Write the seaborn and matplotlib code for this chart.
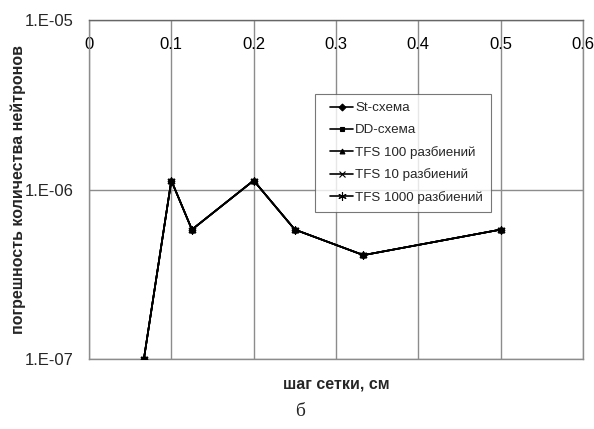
import matplotlib
matplotlib.use("Agg")
import matplotlib.pyplot as plt
import seaborn as sns
import numpy as np
import pandas as pd
from matplotlib.ticker import FixedLocator, FixedFormatter, NullLocator
from matplotlib.lines import Line2D
from matplotlib.legend_handler import HandlerLine2D

# Grid step (cm) and neutron count error for each scheme
steps = [1/15, 0.1, 0.125, 0.2, 0.25, 1/3, 0.5]
st_scheme = [1.0e-7, 1.13e-6, 5.8e-7, 1.13e-6, 5.8e-7, 4.1e-7, 5.8e-7]
dd_scheme = [1.0e-7, 1.13e-6, 5.8e-7, 1.13e-6, 5.8e-7, 4.1e-7, 5.8e-7]
tfs_100 = [1.0e-7, 1.13e-6, 5.8e-7, 1.13e-6, 5.8e-7, 4.1e-7, 5.8e-7]
tfs_10 = [1.0e-7, 1.13e-6, 5.8e-7, 1.13e-6, 5.8e-7, 4.1e-7, 5.8e-7]
tfs_1000 = [1.0e-7, 1.13e-6, 5.8e-7, 1.13e-6, 5.8e-7, 4.1e-7, 5.8e-7]

series_names = ["St-схема", "DD-схема", "TFS 100 разбиений", "TFS 10 разбиений", "TFS 1000 разбиений"]
series_values = [st_scheme, dd_scheme, tfs_100, tfs_10, tfs_1000]
markers = ["D", "s", "^", "x", (6, 2, 0)]
marker_sizes = [3.5, 3.5, 3.5, 5, 6]

x_ticks = [0, 0.1, 0.2, 0.3, 0.4, 0.5, 0.6]
x_tick_labels = ["0", "0.1", "0.2", "0.3", "0.4", "0.5", "0.6"]
y_ticks = [1e-7, 1e-6, 1e-5]
y_tick_labels = ["1.E-07", "1.E-06", "1.E-05"]

sns.set_style("white")
plt.rcParams["font.family"] = ["Liberation Sans", "DejaVu Sans"]

fig = plt.figure(figsize=(5.94, 4.29), dpi=100)
ax = fig.add_axes([89/594, 1 - 359/429, (583 - 89)/594, (359 - 20)/429])

for name, vals, m, ms in zip(series_names, series_values, markers, marker_sizes):
    df = pd.DataFrame({"step": steps, "err": vals})
    sns.lineplot(data=df, x="step", y="err", ax=ax, color="black", linewidth=1.2,
                 marker=m, markersize=ms, markeredgecolor="black",
                 markerfacecolor="black", markeredgewidth=0.8, label=name,
                 zorder=3)

ax.set_yscale("log")
ax.set_xlim(0, 0.6)
ax.set_ylim(1e-7, 1e-5)

ax.xaxis.set_major_locator(FixedLocator(x_ticks))
ax.xaxis.set_major_formatter(FixedFormatter(x_tick_labels))
ax.yaxis.set_major_locator(FixedLocator(y_ticks))
ax.yaxis.set_major_formatter(FixedFormatter(y_tick_labels))
ax.yaxis.set_minor_locator(NullLocator())

ax.grid(True, which="major", color="#8c8c8c", linewidth=1.0)
ax.set_axisbelow(True)

# x labels sit just inside the top edge of the plot
ax.xaxis.set_tick_params(labeltop=True, labelbottom=False)
ax.tick_params(axis="x", which="both", length=0, labelsize=12, pad=-12,
               labelcolor="black")
for t in ax.xaxis.get_major_ticks():
    t.label2.set_verticalalignment("top")
ax.tick_params(axis="y", which="major", length=4, width=1, color="#8c8c8c",
               direction="out", labelsize=12, pad=7)
ax.tick_params(axis="y", which="minor", length=0)

for side in ["top", "right", "bottom", "left"]:
    ax.spines[side].set_color("#8c8c8c")
    ax.spines[side].set_linewidth(1.0)
ax.spines["top"].set_color("#666666")

ax.set_xlabel("")
ax.set_ylabel("погрешность количества нейтронов", fontsize=11.5, fontweight="bold",
              labelpad=-1)

fig.text(336/594, 1 - 384/429, "шаг сетки, см", fontsize=11.5,
         fontweight="bold", ha="center", va="center")
fig.text(300/594, 1 - 412/429, "б", fontsize=14, ha="center", va="center",
         family=["Liberation Serif", "DejaVu Serif"])

leg = ax.legend(loc="upper left", bbox_to_anchor=((315 - 89)/494, (359 - 94)/339),
                frameon=True, fancybox=False, fontsize=9.6, handlelength=2.25,
                handletextpad=0.15, borderpad=0.6, labelspacing=0.72,
                borderaxespad=0,
                handler_map={Line2D: HandlerLine2D(xpad=0.53)})
leg.get_frame().set_edgecolor("#555555")
leg.get_frame().set_linewidth(0.8)

fig.savefig("out.png", dpi=100)
